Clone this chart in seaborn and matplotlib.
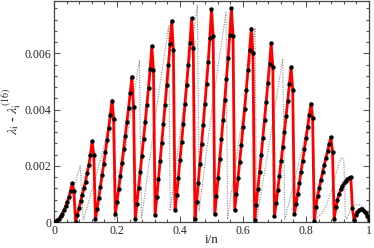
import numpy as np
import pandas as pd
import matplotlib
matplotlib.use("Agg")
import matplotlib.pyplot as plt
import seaborn as sns
from matplotlib.ticker import MultipleLocator

# red curve: one list per tooth of the sawtooth
tooth_01 = [0, 0.00002, 0.00006, 0.00012, 0.00020, 0.00030, 0.00042, 0.00056,
            0.00072, 0.00090, 0.00112, 0.00138, 0.00112]
tooth_02 = [0, 0.00025, 0.00049, 0.00073, 0.00096, 0.00120, 0.00144, 0.00174,
            0.00204, 0.00239, 0.00287, 0.00240]
tooth_03 = [0.00010, 0.00047, 0.00086, 0.00126, 0.00166, 0.00207, 0.00249,
            0.00292, 0.00336, 0.00382, 0.00432, 0.00365]
tooth_04 = [0.00027, 0.00072, 0.00118, 0.00164, 0.00211, 0.00259, 0.00307,
            0.00356, 0.00407, 0.00460, 0.00517, 0.00410]
tooth_05 = [0.00010, 0.00065, 0.00121, 0.00178, 0.00236, 0.00295, 0.00354,
            0.00415, 0.00477, 0.00545, 0.00626, 0.00540]
tooth_06 = [0.00025, 0.00088, 0.00152, 0.00216, 0.00282, 0.00348, 0.00416,
            0.00486, 0.00557, 0.00632, 0.00715, 0.00610]
tooth_07 = [0.00043, 0.00095, 0.00157, 0.00220, 0.00285, 0.00350, 0.00418,
            0.00488, 0.00560, 0.00636, 0.00724, 0.00620]
tooth_08 = [0.00010, 0.00072, 0.00139, 0.00207, 0.00276, 0.00346, 0.00418,
            0.00492, 0.00568, 0.00655, 0.00757, 0.00660]
tooth_09 = [0.00027, 0.00092, 0.00158, 0.00225, 0.00294, 0.00364, 0.00435,
            0.00508, 0.00583, 0.00665, 0.00760, 0.00660]
tooth_10 = [0.00043, 0.00098, 0.00155, 0.00214, 0.00275, 0.00338, 0.00403,
            0.00470, 0.00540, 0.00612, 0.00688, 0.00600]
tooth_11 = [0.00007, 0.00062, 0.00119, 0.00178, 0.00238, 0.00300, 0.00363,
            0.00428, 0.00495, 0.00563, 0.00635, 0.00550]
tooth_12 = [0.00020, 0.00067, 0.00115, 0.00165, 0.00216, 0.00268, 0.00321,
            0.00376, 0.00432, 0.00490, 0.00551, 0.00470]
tooth_13 = [0.00027, 0.00064, 0.00101, 0.00139, 0.00178, 0.00218, 0.00258,
            0.00298, 0.00338, 0.00379, 0.00421, 0.00370]
tooth_14 = [0.00005, 0.00055, 0.00092, 0.00122, 0.00150, 0.00177, 0.00203,
            0.00228, 0.00252, 0.00277, 0.00302, 0.00250]
tooth_15 = [0.00010, 0.00052, 0.00079, 0.00100, 0.00117, 0.00129, 0.00138,
            0.00146, 0.00152, 0.00156, 0.00160, 0.00050]
tooth_16 = [0.00007, 0.00025, 0.00036, 0.00043, 0.00046, 0.00045, 0.00040,
            0.00032, 0.00021, 0.00008]

# grey dotted reference curve
grey_x = [0, 0.01, 0.02, 0.03, 0.04, 0.05, 0.06, 0.07, 0.083, 0.093,
          0.14, 0.186, 0.193, 0.232, 0.271, 0.278, 0.32, 0.364, 0.369,
          0.41, 0.455, 0.461, 0.50, 0.546, 0.551, 0.595, 0.638, 0.643,
          0.685, 0.726, 0.733, 0.777, 0.821, 0.83, 0.85, 0.865, 0.88,
          0.895, 0.905, 0.913, 0.92, 0.925, 0.93, 0.94, 0.955, 0.97,
          0.985, 1.0]
grey_y = [0, 0.00003, 0.00012, 0.00027, 0.00048, 0.00076, 0.0011, 0.0015,
          0.0020, 0.00005, 0.0019, 0.0039, 0.0001, 0.0030, 0.00575,
          0.00012, 0.0036, 0.0070, 0.0004, 0.0040, 0.0077, 0.0004, 0.0039,
          0.00745, 0.0001, 0.0035, 0.0069, 0.00005, 0.0029, 0.0058, 0.0001,
          0.0021, 0.0042, 0.0001, 0.0003, 0.0006, 0.0011, 0.0017, 0.0021,
          0.0023, 0.0022, 0.0002, 0.0001, 0.0004, 0.0006, 0.00062, 0.0005,
          0.0001]

x_ticks = [0, 0.2, 0.4, 0.6, 0.8, 1.0]
x_tick_labels = ["0", "0.2", "0.4", "0.6", "0.8", "1"]
y_ticks = [0, 0.002, 0.004, 0.006]
y_tick_labels = ["0", "0.002", "0.004", "0.006"]

teeth = [tooth_01, tooth_02, tooth_03, tooth_04, tooth_05, tooth_06,
         tooth_07, tooth_08, tooth_09, tooth_10, tooth_11, tooth_12,
         tooth_13, tooth_14, tooth_15, tooth_16]
red_y = np.concatenate(teeth)
n = len(red_y) - 1
red = pd.DataFrame({"x": np.arange(n + 1) / n, "y": red_y})
grey = pd.DataFrame({"x": grey_x, "y": grey_y})

sns.set_style("ticks")
plt.rcParams["font.family"] = ["Liberation Serif", "DejaVu Serif"]
plt.rcParams["mathtext.fontset"] = "stix"

fig = plt.figure(figsize=(3.74, 2.48), dpi=100)
ax = fig.add_axes([0.1444, 0.1048, 0.8422, 0.8912])

sns.lineplot(data=grey, x="x", y="y", ax=ax, color="#8c8c8c", lw=0.8,
             linestyle=(0, (1, 1.2)), estimator=None, sort=False, zorder=1)
sns.lineplot(data=red, x="x", y="y", ax=ax, color="red", lw=2.0,
             estimator=None, sort=False, zorder=2)
sns.scatterplot(data=red, x="x", y="y", ax=ax, color="black", s=10,
                linewidth=0, zorder=3)

ax.set_xlim(0, 1)
ax.set_ylim(0, 0.00786)
ax.set_xticks(x_ticks)
ax.set_xticklabels(x_tick_labels)
ax.set_yticks(y_ticks)
ax.set_yticklabels(y_tick_labels)
ax.xaxis.set_minor_locator(MultipleLocator(0.04))
ax.yaxis.set_minor_locator(MultipleLocator(0.0004))
ax.tick_params(which="both", direction="in", top=True, right=True,
               labelsize=8.5, width=0.8, color="#555555", pad=2)
ax.tick_params(which="major", length=4)
ax.tick_params(which="minor", length=2.2)
for s in ax.spines.values():
    s.set_linewidth(0.9)
    s.set_color("#444444")

ax.set_xlabel("i/n", fontsize=9.5)
ax.xaxis.set_label_coords(0.5, -0.052)
ax.xaxis.label.set_va("top")
ax.set_ylabel(r"$\lambda_{\rm i}$ - $\lambda_{\rm i}^{(16)}$", fontsize=10,
              labelpad=1)

fig.savefig("out.png", dpi=100)
